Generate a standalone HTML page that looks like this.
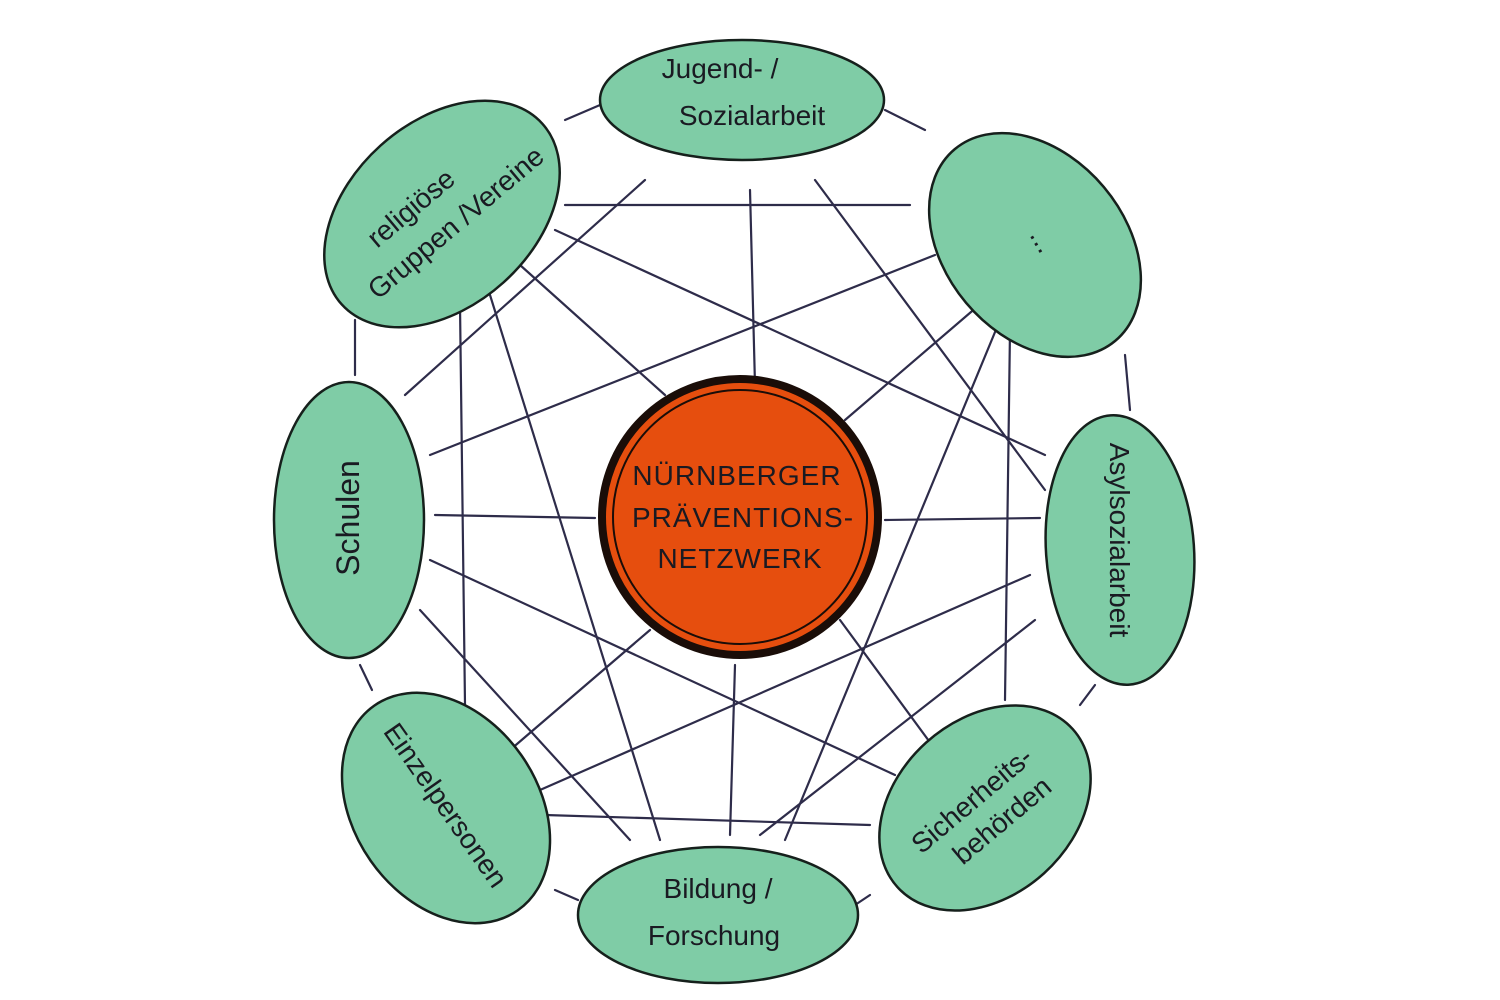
<!DOCTYPE html>
<html><head><meta charset="utf-8"><style>
html,body{margin:0;padding:0;background:#fff;width:1500px;height:1000px;overflow:hidden}
svg text{font-family:"Liberation Sans","DejaVu Sans",sans-serif;fill:#1a1a22}
</style></head><body>
<svg width="1500" height="1000" viewBox="0 0 1500 1000" xmlns="http://www.w3.org/2000/svg">
<rect width="1500" height="1000" fill="#fff"/>
<g stroke="#2e2c4a" stroke-width="2.2" fill="none" stroke-linecap="round">
<path d="M565 120 L600 105"/><path d="M885 110 L925 130"/>
<path d="M1125 355 L1130 410"/><path d="M1095 685 L1080 705"/>
<path d="M870 895 L855 905"/><path d="M555 890 L578 900"/>
<path d="M360 665 L372 690"/><path d="M355 320 L355 375"/>
<path d="M565 205 L910 205"/>
<path d="M555 230 L1045 455"/>
<path d="M520 265 L665 395"/>
<path d="M490 295 L660 840"/>
<path d="M460 305 L465 705"/>
<path d="M405 395 L645 180"/>
<path d="M750 190 L755 385"/>
<path d="M815 180 L1045 490"/>
<path d="M935 255 L430 455"/>
<path d="M985 300 L845 420"/>
<path d="M1000 320 L785 840"/>
<path d="M1010 330 L1005 700"/>
<path d="M435 515 L595 518"/>
<path d="M885 520 L1040 518"/>
<path d="M430 560 L895 775"/>
<path d="M420 610 L630 840"/>
<path d="M510 750 L650 630"/>
<path d="M735 665 L730 835"/>
<path d="M840 620 L965 790"/>
<path d="M1030 575 L540 790"/>
<path d="M1035 620 L760 835"/>
<path d="M545 815 L870 825"/>
</g>
<g fill="#7fcca6" stroke="#16201c" stroke-width="2.5">
<ellipse cx="742" cy="100" rx="142" ry="60"/>
<ellipse cx="1035" cy="245" rx="125" ry="90" transform="rotate(50 1035 245)"/>
<ellipse cx="1120" cy="550" rx="74" ry="135" transform="rotate(-4 1120 550)"/>
<ellipse cx="985" cy="808" rx="118" ry="88" transform="rotate(-42 985 808)"/>
<ellipse cx="718" cy="915" rx="140" ry="68"/>
<ellipse cx="446" cy="808" rx="125" ry="92" transform="rotate(55 446 808)"/>
<ellipse cx="349" cy="520" rx="75" ry="138"/>
<ellipse cx="442" cy="214" rx="135" ry="92" transform="rotate(-42 442 214)"/>
</g>
<circle cx="740" cy="517" r="138" fill="#e64e0e" stroke="#1a0d08" stroke-width="8"/>
<circle cx="740" cy="517" r="127" fill="none" stroke="#1a0d08" stroke-width="2"/>
<g font-size="28" text-anchor="middle" style="letter-spacing:1px">
<text x="737" y="485">NÜRNBERGER</text>
<text x="743" y="527">PRÄVENTIONS-</text>
<text x="740" y="568">NETZWERK</text>
</g>
<g font-size="28" text-anchor="middle">
<text x="720" y="78">Jugend- /</text>
<text x="752" y="125">Sozialarbeit</text>
<text x="1035" y="245" transform="rotate(60 1035 245)">...</text>
<text transform="translate(1120 540) rotate(90)" x="0" y="10">Asylsozialarbeit</text>
<text transform="translate(985 808) rotate(-40)" x="-5" y="-5">Sicherheits-</text>
<text transform="translate(985 808) rotate(-40)" x="5" y="30">behörden</text>
<text x="718" y="898">Bildung /</text>
<text x="714" y="945">Forschung</text>
<text transform="translate(446 805) rotate(55)" x="0" y="10">Einzelpersonen</text>
<text transform="translate(349 518) rotate(-90)" x="0" y="10" font-size="32">Schulen</text>
<text transform="translate(442 214) rotate(-40)" x="-20" y="-15">religiöse</text>
<text transform="translate(442 214) rotate(-40)" x="5" y="25">Gruppen /Vereine</text>
</g>
</svg>
</body></html>
